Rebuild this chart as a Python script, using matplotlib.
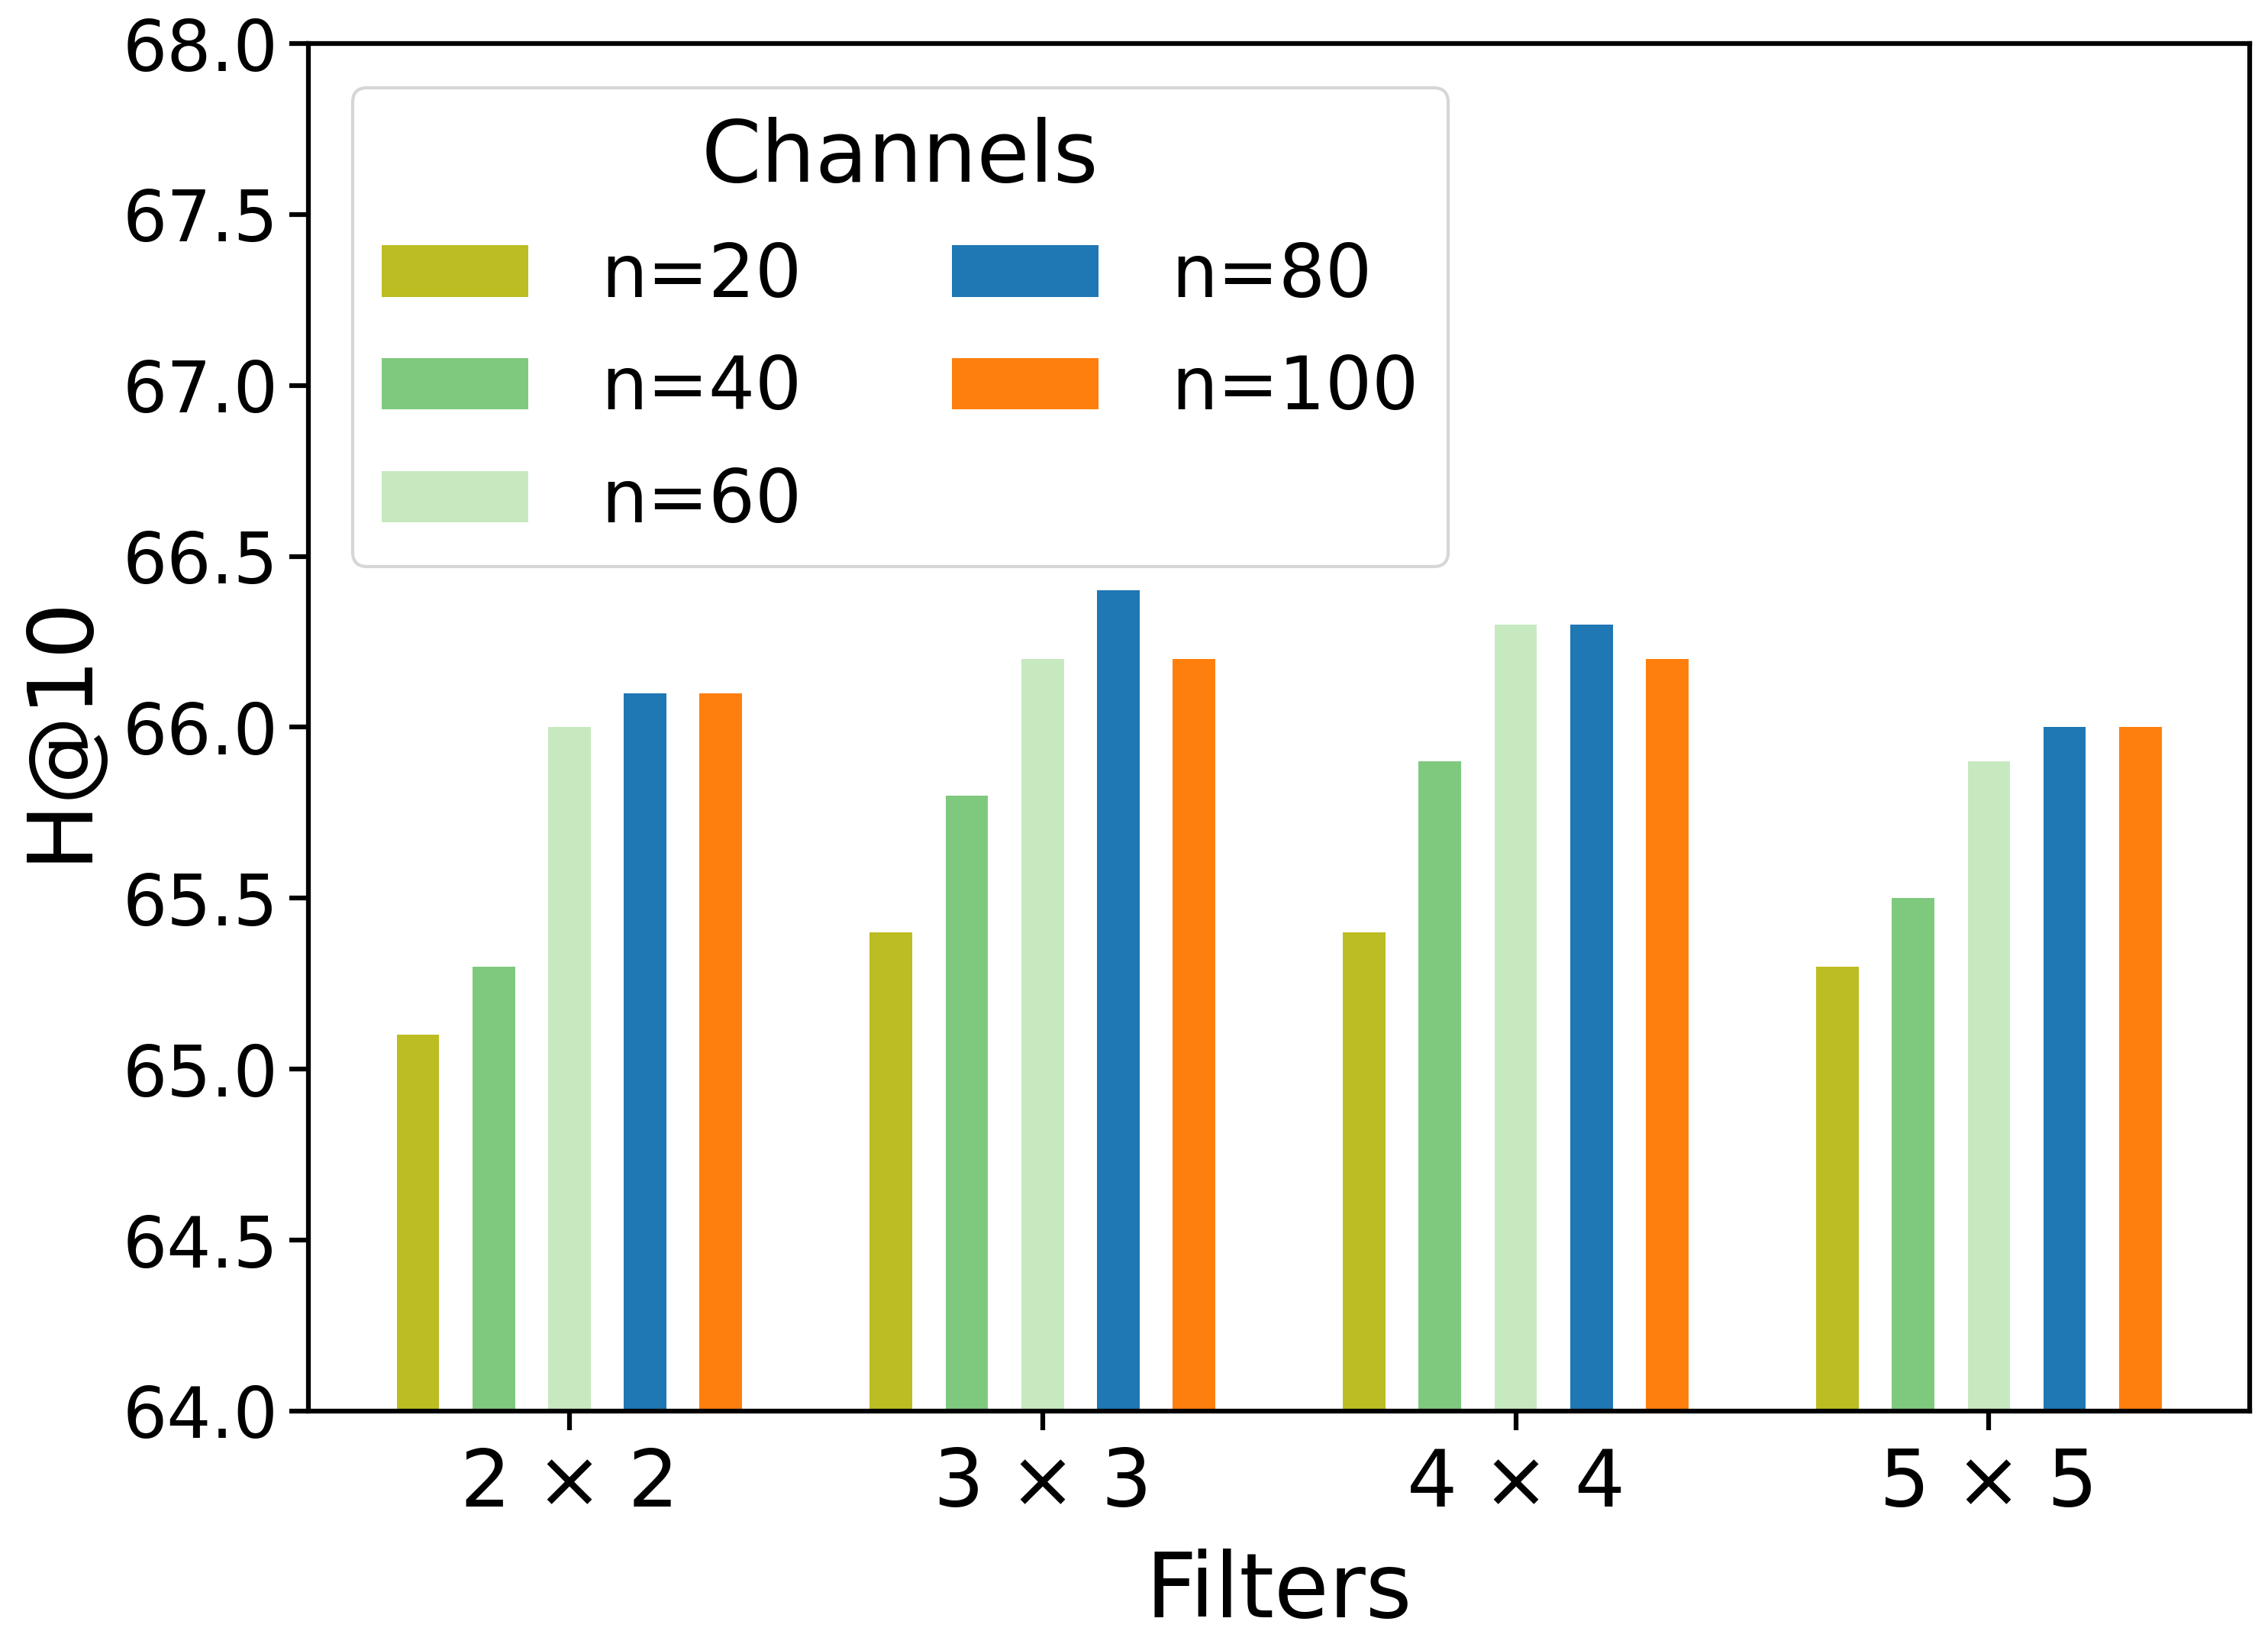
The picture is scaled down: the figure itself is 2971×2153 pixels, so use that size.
import numpy as np
import matplotlib
matplotlib.use('Agg')
import matplotlib.pyplot as plt

filters = ['2 × 2', '3 × 3', '4 × 4', '5 × 5']
channels = ['n=20', 'n=40', 'n=60', 'n=80', 'n=100']
n20 = [65.1, 65.4, 65.4, 65.3]
n40 = [65.3, 65.8, 65.9, 65.5]
n60 = [66.0, 66.2, 66.3, 65.9]
n80 = [66.1, 66.4, 66.3, 66.0]
n100 = [66.1, 66.2, 66.2, 66.0]
colors = ['#bcbd22', '#7fc97f', '#c7e9c0', '#1f77b4', '#ff7f0e']

fig = plt.figure(figsize=(2971 / 300, 2153 / 300), dpi=300)
ax = fig.add_subplot(111)
fig.subplots_adjust(left=0.136, right=0.992, top=0.9735, bottom=0.1417)

x = np.arange(len(filters))
width = 0.09
step = 0.16
series = [n20, n40, n60, n80, n100]
for i, (vals, lab, c) in enumerate(zip(series, channels, colors)):
    ax.bar(x + (i - 2) * step, np.array(vals) - 64.0, width, bottom=64.0,
           color=c, label=lab)

ax.set_ylim(64.0, 68.0)
ax.set_yticks(np.arange(64.0, 68.01, 0.5))
ax.set_yticklabels([f'{v:.1f}' for v in np.arange(64.0, 68.01, 0.5)])
ax.set_xticks(x)
ax.set_xticklabels(filters)
ax.tick_params(axis='y', labelsize=22, length=6, width=1.5)
ax.tick_params(axis='x', labelsize=25, length=6, width=1.5, pad=5)
for s in ax.spines.values():
    s.set_linewidth(1.5)

ax.set_xlabel('Filters', fontsize=28, labelpad=8)
ax.set_ylabel('H@10', fontsize=28, labelpad=6)

leg = ax.legend(title='Channels', ncol=2, loc='upper left', fontsize=23,
                title_fontsize=27, handlelength=2.0, handleheight=0.7,
                handletextpad=1.0, columnspacing=2.05, labelspacing=0.57,
                borderaxespad=0.6)

fig.savefig('out.png', dpi=300)
